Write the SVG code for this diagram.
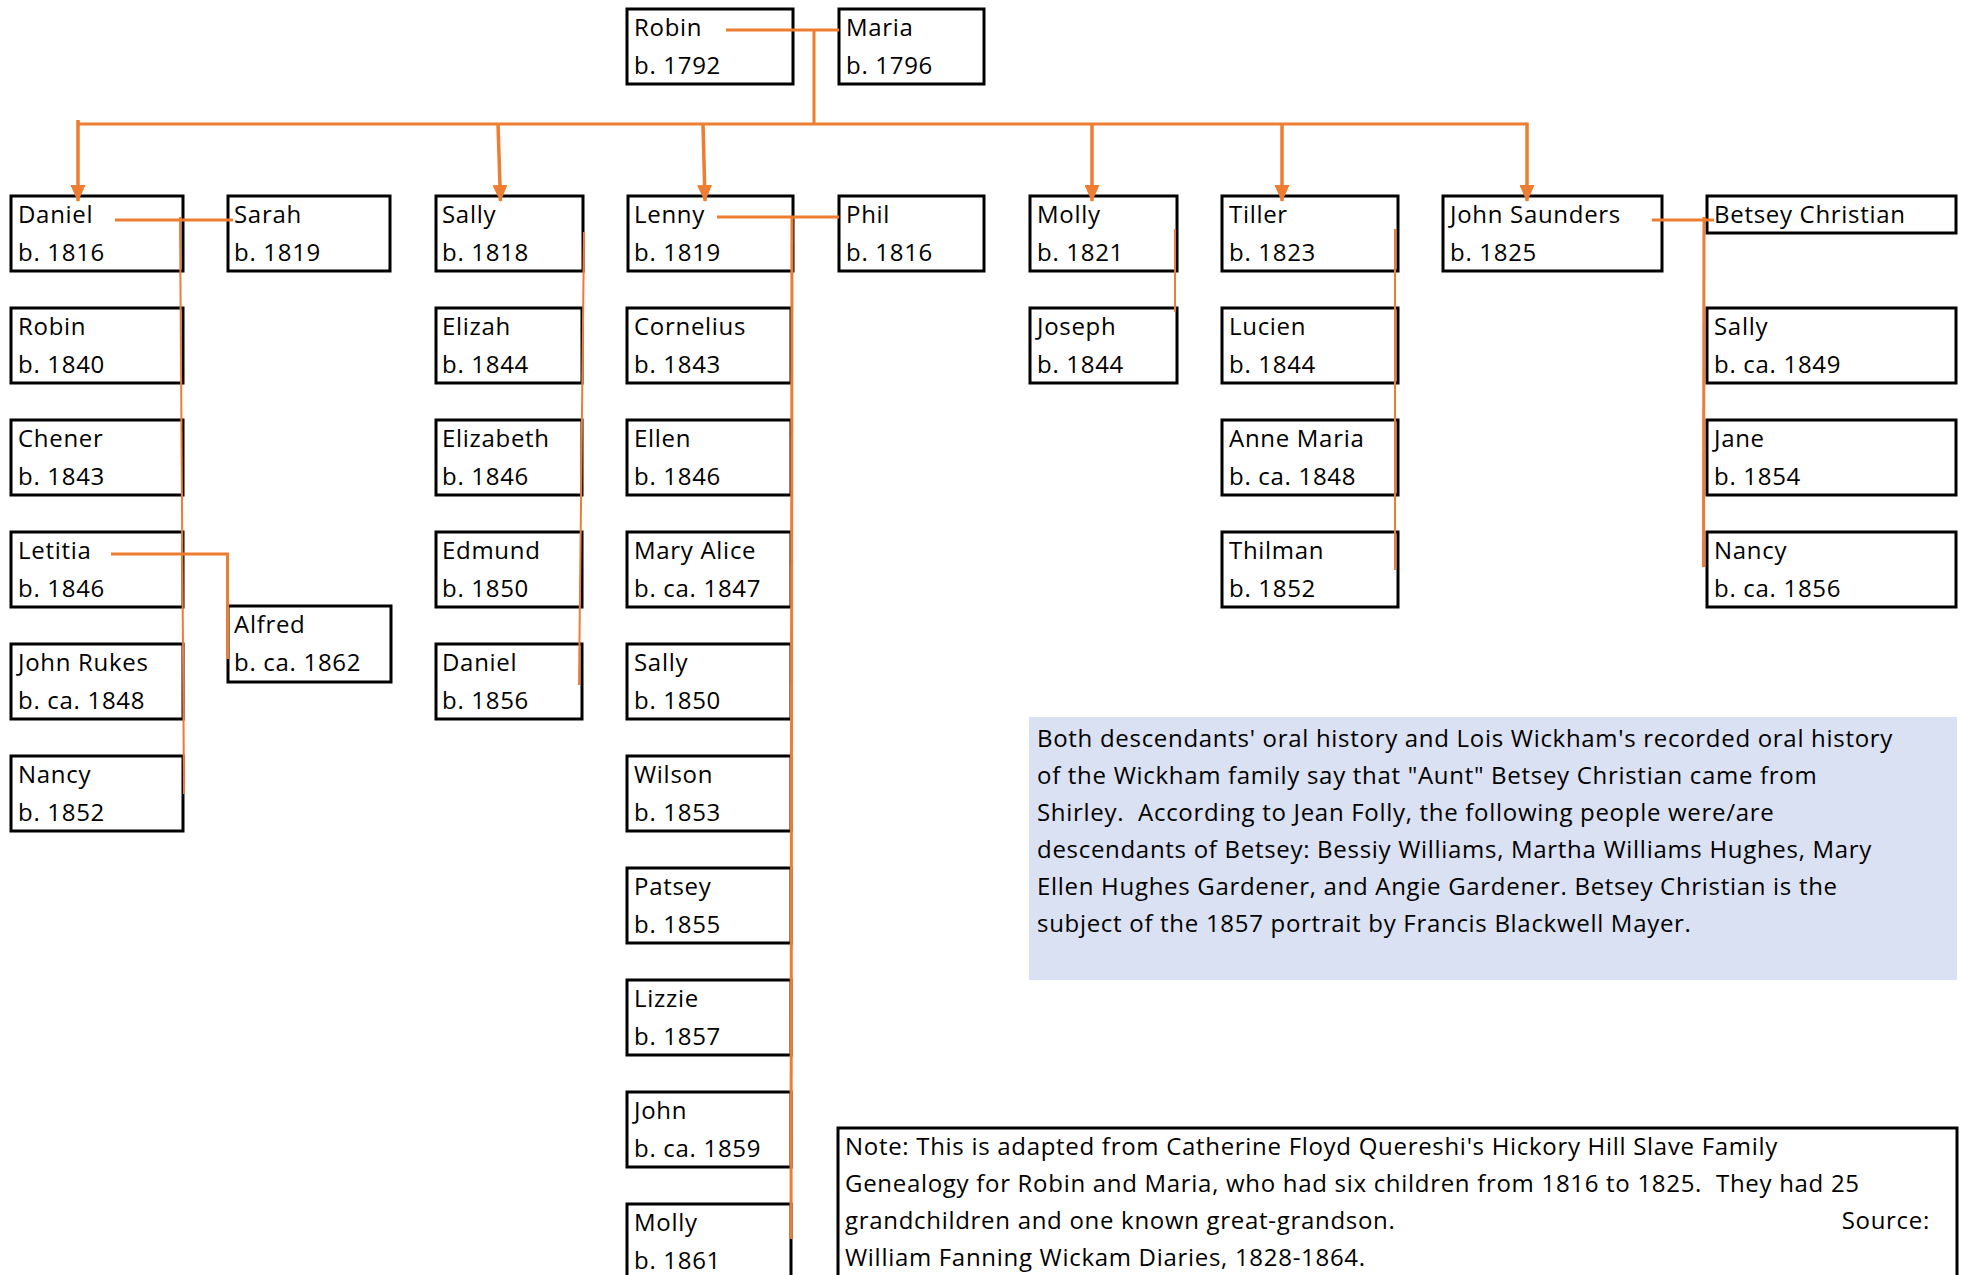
<svg xmlns="http://www.w3.org/2000/svg" width="1965" height="1275" viewBox="0 0 1965 1275">
<style>
.box{fill:#fff;stroke:#000;stroke-width:3}
.t{font-family:'Open Sans','Liberation Sans',sans-serif;font-size:24px;letter-spacing:0.7px;fill:#000}
.c{stroke:#ED7D31;fill:none;stroke-width:3}
.th{stroke:#ED7D31;fill:none;stroke-width:2}
.ar{stroke:#ED7D31;fill:none;stroke-width:3.5;marker-end:url(#ah)}
</style>
<defs>
<marker id="ah" markerUnits="userSpaceOnUse" markerWidth="17" markerHeight="15" refX="16" refY="7.5" orient="auto" viewBox="0 0 17 15">
<path d="M0,0 L17,7.5 L0,15 z" fill="#ED7D31"/>
</marker>
</defs>
<rect width="1965" height="1275" fill="#fff"/>
<g id="nodes">
<g id="n-robin"><rect class="box" x="627" y="9" width="166" height="75"/><text class="t" x="634" y="36">Robin</text><text class="t" x="634" y="74">b. 1792</text></g>
<g id="n-maria"><rect class="box" x="839" y="9" width="145" height="75"/><text class="t" x="846" y="36">Maria</text><text class="t" x="846" y="74">b. 1796</text></g>

<g id="n-daniel"><rect class="box" x="11" y="196" width="172" height="75"/><text class="t" x="18" y="223">Daniel</text><text class="t" x="18" y="261">b. 1816</text></g>
<g id="n-sarah"><rect class="box" x="228" y="196" width="162" height="75"/><text class="t" x="234" y="223">Sarah</text><text class="t" x="234" y="261">b. 1819</text></g>
<g id="n-sally"><rect class="box" x="436" y="196" width="147" height="75"/><text class="t" x="442" y="223">Sally</text><text class="t" x="442" y="261">b. 1818</text></g>
<g id="n-lenny"><rect class="box" x="628" y="196" width="165" height="75"/><text class="t" x="634" y="223">Lenny</text><text class="t" x="634" y="261">b. 1819</text></g>
<g id="n-phil"><rect class="box" x="839" y="196" width="145" height="75"/><text class="t" x="846" y="223">Phil</text><text class="t" x="846" y="261">b. 1816</text></g>
<g id="n-molly"><rect class="box" x="1030" y="196" width="147" height="75"/><text class="t" x="1037" y="223">Molly</text><text class="t" x="1037" y="261">b. 1821</text></g>
<g id="n-tiller"><rect class="box" x="1222" y="196" width="176" height="75"/><text class="t" x="1229" y="223">Tiller</text><text class="t" x="1229" y="261">b. 1823</text></g>
<g id="n-johnsaunders"><rect class="box" x="1443" y="196" width="219" height="75"/><text class="t" x="1450" y="223">John Saunders</text><text class="t" x="1450" y="261">b. 1825</text></g>
<g id="n-betsey"><rect class="box" x="1707" y="196" width="249" height="37"/><text class="t" x="1714" y="223">Betsey Christian</text></g>

<g id="n-robin2"><rect class="box" x="11" y="308" width="172" height="75"/><text class="t" x="18" y="335">Robin</text><text class="t" x="18" y="373">b. 1840</text></g>
<g id="n-chener"><rect class="box" x="11" y="420" width="172" height="75"/><text class="t" x="18" y="447">Chener</text><text class="t" x="18" y="485">b. 1843</text></g>
<g id="n-letitia"><rect class="box" x="11" y="532" width="172" height="75"/><text class="t" x="18" y="559">Letitia</text><text class="t" x="18" y="597">b. 1846</text></g>
<g id="n-johnrukes"><rect class="box" x="11" y="644" width="172" height="75"/><text class="t" x="18" y="671">John Rukes</text><text class="t" x="18" y="709">b. ca. 1848</text></g>
<g id="n-nancy"><rect class="box" x="11" y="756" width="172" height="75"/><text class="t" x="18" y="783">Nancy</text><text class="t" x="18" y="821">b. 1852</text></g>
<g id="n-alfred"><rect class="box" x="228" y="606" width="163" height="76"/><text class="t" x="234" y="633">Alfred</text><text class="t" x="234" y="671">b. ca. 1862</text></g>

<g id="n-elizah"><rect class="box" x="436" y="308" width="146" height="75"/><text class="t" x="442" y="335">Elizah</text><text class="t" x="442" y="373">b. 1844</text></g>
<g id="n-elizabeth"><rect class="box" x="436" y="420" width="146" height="75"/><text class="t" x="442" y="447">Elizabeth</text><text class="t" x="442" y="485">b. 1846</text></g>
<g id="n-edmund"><rect class="box" x="436" y="532" width="146" height="75"/><text class="t" x="442" y="559">Edmund</text><text class="t" x="442" y="597">b. 1850</text></g>
<g id="n-daniel2"><rect class="box" x="436" y="644" width="146" height="75"/><text class="t" x="442" y="671">Daniel</text><text class="t" x="442" y="709">b. 1856</text></g>

<g id="n-cornelius"><rect class="box" x="627" y="308" width="164" height="75"/><text class="t" x="634" y="335">Cornelius</text><text class="t" x="634" y="373">b. 1843</text></g>
<g id="n-ellen"><rect class="box" x="627" y="420" width="164" height="75"/><text class="t" x="634" y="447">Ellen</text><text class="t" x="634" y="485">b. 1846</text></g>
<g id="n-maryalice"><rect class="box" x="627" y="532" width="164" height="75"/><text class="t" x="634" y="559">Mary Alice</text><text class="t" x="634" y="597">b. ca. 1847</text></g>
<g id="n-sally2"><rect class="box" x="627" y="644" width="164" height="75"/><text class="t" x="634" y="671">Sally</text><text class="t" x="634" y="709">b. 1850</text></g>
<g id="n-wilson"><rect class="box" x="627" y="756" width="164" height="75"/><text class="t" x="634" y="783">Wilson</text><text class="t" x="634" y="821">b. 1853</text></g>
<g id="n-patsey"><rect class="box" x="627" y="868" width="164" height="75"/><text class="t" x="634" y="895">Patsey</text><text class="t" x="634" y="933">b. 1855</text></g>
<g id="n-lizzie"><rect class="box" x="627" y="980" width="164" height="75"/><text class="t" x="634" y="1007">Lizzie</text><text class="t" x="634" y="1045">b. 1857</text></g>
<g id="n-john"><rect class="box" x="627" y="1092" width="164" height="75"/><text class="t" x="634" y="1119">John</text><text class="t" x="634" y="1157">b. ca. 1859</text></g>
<g id="n-molly2"><rect class="box" x="627" y="1204" width="164" height="90"/><text class="t" x="634" y="1231">Molly</text><text class="t" x="634" y="1269">b. 1861</text></g>

<g id="n-joseph"><rect class="box" x="1030" y="308" width="147" height="75"/><text class="t" x="1037" y="335">Joseph</text><text class="t" x="1037" y="373">b. 1844</text></g>

<g id="n-lucien"><rect class="box" x="1222" y="308" width="176" height="75"/><text class="t" x="1229" y="335">Lucien</text><text class="t" x="1229" y="373">b. 1844</text></g>
<g id="n-annemaria"><rect class="box" x="1222" y="420" width="176" height="75"/><text class="t" x="1229" y="447">Anne Maria</text><text class="t" x="1229" y="485">b. ca. 1848</text></g>
<g id="n-thilman"><rect class="box" x="1222" y="532" width="176" height="75"/><text class="t" x="1229" y="559">Thilman</text><text class="t" x="1229" y="597">b. 1852</text></g>

<g id="n-sally3"><rect class="box" x="1707" y="308" width="249" height="75"/><text class="t" x="1714" y="335">Sally</text><text class="t" x="1714" y="373">b. ca. 1849</text></g>
<g id="n-jane"><rect class="box" x="1707" y="420" width="249" height="75"/><text class="t" x="1714" y="447">Jane</text><text class="t" x="1714" y="485">b. 1854</text></g>
<g id="n-nancy2"><rect class="box" x="1707" y="532" width="249" height="75"/><text class="t" x="1714" y="559">Nancy</text><text class="t" x="1714" y="597">b. ca. 1856</text></g>

<g id="n-info"><rect x="1029" y="717" width="928" height="263" fill="#D9E1F2"/>
<text class="t" xml:space="preserve"><tspan x="1037" y="747">Both descendants' oral history and Lois Wickham's recorded oral history</tspan><tspan x="1037" y="784">of the Wickham family say that "Aunt" Betsey Christian came from</tspan><tspan x="1037" y="821">Shirley.  According to Jean Folly, the following people were/are</tspan><tspan x="1037" y="858">descendants of Betsey: Bessiy Williams, Martha Williams Hughes, Mary</tspan><tspan x="1037" y="895">Ellen Hughes Gardener, and Angie Gardener. Betsey Christian is the</tspan><tspan x="1037" y="932">subject of the 1857 portrait by Francis Blackwell Mayer.</tspan></text></g>

<g id="n-note"><rect class="box" x="838" y="1128" width="1119" height="170"/>
<text class="t" xml:space="preserve"><tspan x="845" y="1155">Note: This is adapted from Catherine Floyd Quereshi's Hickory Hill Slave Family</tspan><tspan x="845" y="1192">Genealogy for Robin and Maria, who had six children from 1816 to 1825.  They had 25</tspan><tspan x="845" y="1229">grandchildren and one known great-grandson.</tspan><tspan x="845" y="1266">William Fanning Wickam Diaries, 1828-1864.</tspan></text>
<text class="t" x="1930" y="1229" text-anchor="end">Source:</text></g>
</g>
<g id="connectors">
<polyline class="c" points="726,30 839,30"/>
<polyline class="c" points="814,30 814,124"/>
<polyline class="c" points="78,124 1527,124"/>
<line class="ar" x1="78" y1="120" x2="78" y2="201"/>
<line class="ar" x1="498" y1="124" x2="500.5" y2="201"/>
<line class="ar" x1="703" y1="124" x2="705" y2="201"/>
<line class="ar" x1="1092" y1="124" x2="1092" y2="201"/>
<line class="ar" x1="1282" y1="124" x2="1282" y2="201"/>
<line class="ar" x1="1527" y1="122.5" x2="1527" y2="201"/>
<line class="c" x1="115" y1="220" x2="233" y2="220"/>
<line class="th" x1="180" y1="217" x2="184" y2="794"/>
<polyline class="c" points="111,554 227.5,554 227.5,659"/>
<line class="th" x1="584" y1="232" x2="579" y2="685"/>
<line class="c" x1="717" y1="217" x2="839" y2="217"/>
<line class="c" x1="792" y1="217" x2="791" y2="1239"/>
<line class="th" x1="1175" y1="229" x2="1175" y2="312"/>
<line class="th" x1="1395" y1="229" x2="1395" y2="570"/>
<line class="c" x1="1652" y1="220" x2="1714" y2="220"/>
<line class="c" x1="1704" y1="217" x2="1703.5" y2="567"/>
</g>
</svg>
